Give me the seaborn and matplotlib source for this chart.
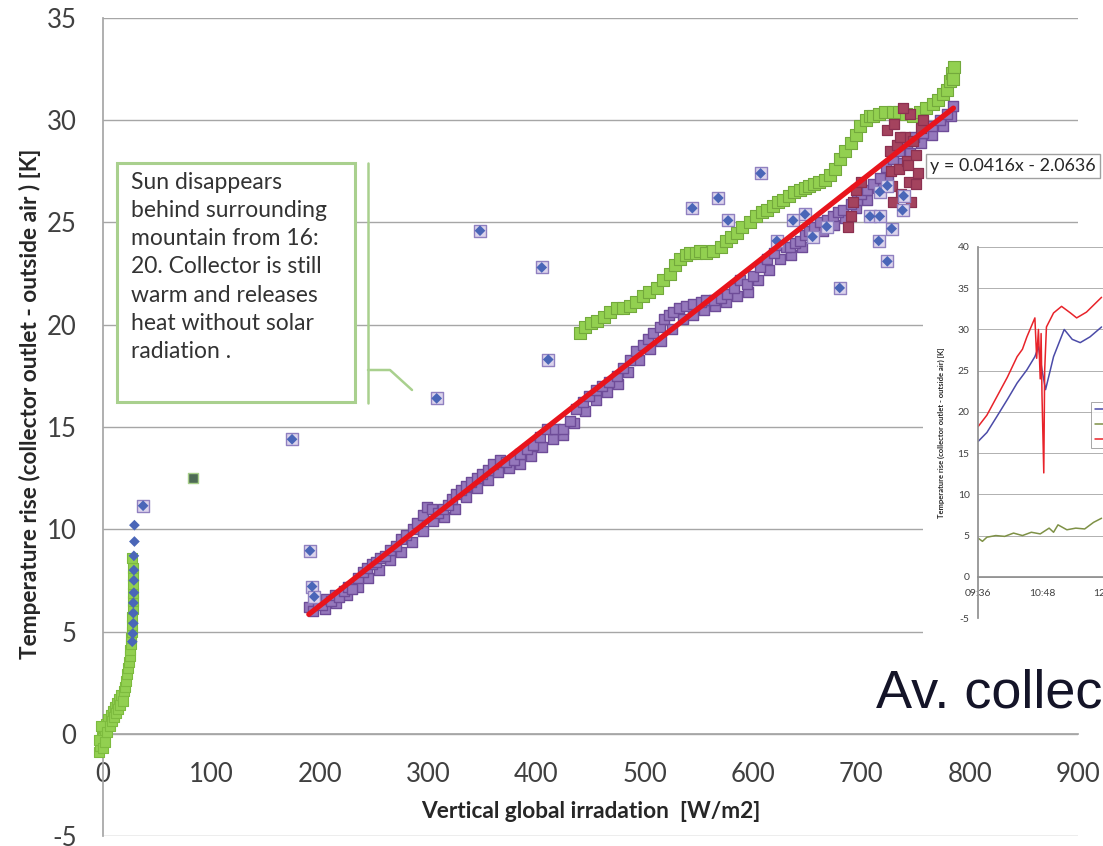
import numpy as np
import pandas as pd
import matplotlib
matplotlib.use("Agg")
import matplotlib.pyplot as plt
import seaborn as sns
from matplotlib.patches import Rectangle
from matplotlib.lines import Line2D

# ---- main chart data (irradiation W/m2, temperature rise K) ----
# early morning points close to the origin
green_early_x = [-4, -3, -2, -1, 0, 1, 2, 3, 5, 7, 9, 11, 13, 15, 17, 19, 20, 21, 22, 23, 24, 25, 25, 26, 26, 27,
                 27, 27, 28, 28, 28, 28, 28, 28, 27, -4, -2, 0, 2, 4, 6, 8, 10, 12, 14, 16, 18]
green_early_y = [-0.9, -0.6, -0.3, -0.1, 0.1, 0.3, 0.2, 0.5, 0.7, 0.9, 1.1, 1.3, 1.5, 1.7, 1.9, 2.1, 2.3, 2.6, 2.9,
                 3.2, 3.5, 3.8, 4.1, 4.4, 4.7, 5.0, 5.3, 5.7, 6.1, 6.5, 6.9, 7.3, 7.7, 8.1, 8.6, -0.3, 0.4, -0.7,
                 -0.4, 0.1, 0.4, 0.6, 0.8, 1.0, 1.2, 1.4, 1.6]

# afternoon points (upper green band)
green_x = [440, 445, 450, 456, 462, 468, 474, 480, 486, 492, 498, 504, 511, 517, 523, 528, 533, 538, 542, 547,
           551, 557, 563, 570, 575, 580, 585, 590, 597, 603, 608, 613, 618, 623, 628, 633, 638, 643, 648, 652,
           656, 661, 666, 671, 676, 680, 685, 690, 695, 699, 704, 708, 711, 716, 722, 729, 735, 741, 748, 754,
           760, 766, 771, 775, 779, 782, 784, 786, 785]
green_y = [19.6, 19.9, 20.1, 20.2, 20.4, 20.6, 20.8, 20.8, 20.9, 21.1, 21.4, 21.6, 21.8, 22.2, 22.5, 22.9, 23.2,
           23.4, 23.5, 23.5, 23.6, 23.5, 23.6, 23.8, 24.1, 24.3, 24.5, 24.8, 25.0, 25.3, 25.5, 25.6, 25.8, 26.0,
           26.1, 26.3, 26.5, 26.6, 26.7, 26.8, 26.9, 27.0, 27.1, 27.3, 27.6, 28.1, 28.5, 28.9, 29.3, 29.7, 30.0,
           30.2, 30.2, 30.3, 30.4, 30.4, 30.4, 30.3, 30.2, 30.4, 30.6, 30.8, 31.0, 31.3, 31.5, 31.9, 32.3, 32.6,
           32.0]

# main band of measurements along the trend line
purple_x = [190, 194, 198, 202, 206, 210, 214, 218, 222, 226, 230, 235, 240, 244, 248, 252, 256, 260, 265, 270,
            275, 280, 286, 290, 295, 299, 304, 309, 314, 318, 322, 326, 330, 335, 340, 345, 350, 355, 360, 366,
            372, 379, 385, 391, 397, 403, 410, 417, 425, 431, 437, 443, 449, 455, 461, 467, 474, 480, 486, 492,
            498, 503, 508, 514, 518, 522, 526, 532, 538, 545, 552, 557, 564, 570, 576, 582, 588, 594, 600, 606,
            613, 619, 625, 630, 634, 639, 643, 648, 652, 656, 662, 668, 674, 678, 683, 690, 696, 700, 705, 711,
            717, 723, 729, 735, 742, 749, 757, 765, 773, 779, 785]
purple_y = [6.2, 6.0, 6.4, 6.3, 6.6, 6.5, 6.8, 6.7, 7.0, 7.2, 7.1, 7.6, 7.9, 8.1, 8.3, 8.4, 8.6, 8.7, 9.0, 9.2,
            9.5, 9.7, 10.0, 10.3, 10.7, 11.1, 11.0, 10.8, 11.0, 11.2, 11.5, 11.7, 11.9, 12.1, 12.3, 12.5, 12.7,
            12.9, 13.2, 13.4, 13.3, 13.4, 13.7, 13.9, 14.1, 14.5, 14.9, 14.9, 14.9, 15.3, 15.9, 16.2, 16.5, 16.8,
            17.0, 17.2, 17.5, 17.9, 18.3, 18.7, 19.0, 19.3, 19.6, 19.9, 20.3, 20.5, 20.6, 20.8, 20.9, 21.0, 21.1,
            21.2, 21.2, 21.3, 21.5, 21.8, 22.2, 22.0, 22.4, 22.8, 23.2, 23.5, 23.9, 23.8, 23.8, 24.0, 24.1, 24.4,
            24.6, 24.8, 25.0, 25.1, 25.3, 25.5, 25.6, 25.9, 26.1, 26.4, 26.6, 26.9, 27.2, 27.7, 28.1, 28.5, 28.9,
            29.2, 29.4, 29.7, 30.0, 30.3, 30.7]
purple_low_x = [205, 215, 225, 235, 245, 255, 265, 275, 285, 295, 305, 315, 325, 335, 345, 355, 365, 375, 385,
                395, 405, 415, 425, 435, 445, 455, 465, 475, 485, 495, 505, 515, 525, 535, 545, 555, 565, 575,
                585, 595, 605, 615, 625, 635, 645, 655, 665, 675, 685, 695, 705, 715, 725, 735, 745, 755, 765,
                775, 783]
purple_low_y = [6.1, 6.4, 6.8, 7.2, 7.6, 8.0, 8.5, 8.9, 9.4, 9.9, 10.4, 10.6, 11.0, 11.6, 12.0, 12.4, 12.8, 13.0,
                13.2, 13.6, 14.0, 14.4, 14.6, 15.2, 15.8, 16.3, 16.7, 17.1, 17.7, 18.3, 18.8, 19.2, 19.8, 20.3,
                20.5, 20.7, 20.9, 21.1, 21.4, 21.6, 22.2, 22.7, 23.2, 23.4, 23.8, 24.3, 24.6, 24.9, 25.2, 25.7,
                26.1, 26.7, 27.2, 27.9, 28.4, 28.9, 29.3, 29.7, 30.2]

# late cluster (sun behind the mountain)
maroon_x = [724, 726, 727, 728, 730, 733, 735, 737, 740, 742, 744, 746, 748, 750, 752, 755, 757, 690, 692, 695,
            700, 688, 745, 738, 729, 736, 743, 750]
maroon_y = [29.5, 28.5, 27.5, 26.8, 29.8, 28.8, 27.6, 26.4, 29.2, 28.0, 27.0, 26.0, 29.0, 28.3, 27.4, 29.6, 30.0,
            25.3, 26.0, 26.6, 27.0, 24.8, 30.3, 30.6, 26.0, 29.2, 27.8, 26.9]

# scattered single readings
blue_x = [37, 174.5, 191, 193, 195, 308, 348, 405, 411, 544, 568, 577, 607, 622, 637, 648, 655, 668, 680, 708,
          716, 717, 717, 724, 724, 728, 738, 739]
blue_y = [11.15, 14.4, 8.95, 7.2, 6.7, 16.4, 24.6, 22.8, 18.3, 25.7, 26.2, 25.1, 27.4, 24.1, 25.1, 25.4, 24.3,
          24.8, 21.8, 25.3, 24.1, 25.3, 26.5, 23.1, 26.8, 24.7, 25.6, 26.3]
blue_early_x = [29, 29, 28.5, 28.5, 28.5, 28.5, 28, 28, 28, 27.5, 27]
blue_early_y = [10.2, 9.4, 8.7, 8.0, 7.5, 6.9, 6.4, 5.9, 5.4, 4.9, 4.5]
dark_x = [83]
dark_y = [12.5]

trend_slope = 0.0416
trend_intercept = -2.0636

x_ticks = [0, 100, 200, 300, 400, 500, 600, 700, 800, 900]
y_ticks = [-5, 0, 5, 10, 15, 20, 25, 30, 35]

# ---- inset data (minutes after 09:36, temperature rise K) ----
red_t = [0, 10, 21, 33, 44, 50, 55, 64, 66, 68, 70, 71, 72, 74, 75, 77, 85, 94, 104, 111, 122, 139]
red_v = [18.2, 19.6, 21.8, 24.2, 26.7, 27.6, 29.1, 31.4, 26.5, 30.0, 24.0, 29.5, 22.0, 12.6, 25.0, 30.3, 32.0,
         32.8, 32.0, 31.4, 32.1, 33.9]
blue_t = [0, 10, 21, 33, 44, 55, 64, 68, 72, 76, 85, 97, 106, 115, 126, 139]
blue_v = [16.4, 17.5, 19.4, 21.5, 23.5, 25.1, 26.7, 27.9, 25.1, 22.7, 26.7, 30.0, 28.8, 28.4, 29.1, 30.3]
olive_t = [0, 5, 10, 20, 30, 40, 50, 60, 70, 80, 85, 90, 100, 110, 120, 130, 139]
olive_v = [4.7, 4.3, 4.8, 5.0, 4.9, 5.3, 5.0, 5.4, 5.2, 5.9, 5.4, 6.3, 5.7, 5.9, 5.8, 6.6, 7.1]
inset_ticks = [0, 72, 144]
inset_labels = ["09:36", "10:48", "12:00"]

note = ("Sun disappears\nbehind surrounding\nmountain from 16:\n20. Collector is still\n"
        "warm and releases\nheat without solar\nradiation .")

sns.set_theme(style="white")
plt.rcParams["font.family"] = ["Lato", "DejaVu Sans"]

W, H = 1103, 846


def fx(px):
    return px / W


def fy(py):
    return 1 - py / H


fig = plt.figure(figsize=(W / 100, H / 100), dpi=100)
ax = fig.add_axes([fx(103), fy(836), fx(1078) - fx(103), fy(18) - fy(836)])

grid_col = "#A6A6A6"
sns.scatterplot(x=green_early_x, y=green_early_y, ax=ax, marker="s", s=60, color="#92D050",
                edgecolor="#7DBB3E", linewidth=0.8, clip_on=False, zorder=3)
sns.scatterplot(x=green_x, y=green_y, ax=ax, marker="s", s=64, color="#92D050",
                edgecolor="#73A93C", linewidth=0.8, zorder=3)
sns.scatterplot(x=purple_low_x, y=purple_low_y, ax=ax, marker="s", s=58, color="#9578BC",
                edgecolor="#6E4C98", linewidth=1.0, zorder=4)
sns.scatterplot(x=purple_x, y=purple_y, ax=ax, marker="s", s=58, color="#9578BC",
                edgecolor="#6E4C98", linewidth=1.0, zorder=4)
sns.scatterplot(x=maroon_x, y=maroon_y, ax=ax, marker="s", s=58, color="#A4435E",
                edgecolor="#8B3050", linewidth=0.9, zorder=4)
sns.scatterplot(x=dark_x, y=dark_y, ax=ax, marker="s", s=60, color="#4E6B55",
                edgecolor="#A8CF8A", linewidth=1.0, zorder=5)
sns.scatterplot(x=blue_x, y=blue_y, ax=ax, marker="s", s=70, color="#DCD4EC",
                edgecolor="#9080C0", linewidth=1.0, zorder=5)
sns.scatterplot(x=blue_x + blue_early_x, y=blue_y + blue_early_y, ax=ax, marker="D", s=30,
                color="#4A66B8", edgecolor="none", zorder=6)

# linear trend line over the fitted band
fit = pd.DataFrame({"x": [min(purple_x), max(purple_x)]})
fit["y"] = trend_slope * fit["x"] + trend_intercept
sns.lineplot(data=fit, x="x", y="y", ax=ax, color="#E8141C", lw=3.8, zorder=7)

ax.set_xlim(0, 900)
ax.set_ylim(-5, 35)
ax.set_xticks(x_ticks)
ax.set_xticklabels([str(v) for v in x_ticks])
ax.set_yticks(y_ticks)
ax.set_yticklabels([str(v) for v in y_ticks])
ax.yaxis.grid(True, color=grid_col, lw=1)
ax.xaxis.grid(False)
ax.set_axisbelow(True)
for s in ["top", "right"]:
    ax.spines[s].set_visible(False)
ax.spines["bottom"].set_position(("data", 0))
ax.spines["bottom"].set_color(grid_col)
ax.spines["left"].set_color(grid_col)
ax.tick_params(axis="both", direction="out", length=8, width=1, color=grid_col,
               labelcolor="#404040", labelsize=18.5)
ax.tick_params(axis="x", pad=12)
ax.tick_params(axis="y", pad=11)
ax.set_xlabel("Vertical global irradation  [W/m2]", fontsize=16.3, fontweight="bold", color="#262626")
ax.xaxis.set_label_coords(0.5, 0.043)
ax.set_ylabel("Temperature rise (collector outlet - outside air ) [K]", fontsize=16.3,
              fontweight="bold", color="#262626")
ax.yaxis.set_label_coords(-0.064, 0.528)

# annotation box with accent bar callout
note_col = "#A9D08E"
fig.add_artist(Rectangle((fx(117), fy(402)), fx(355) - fx(117), fy(163) - fy(402),
                         transform=fig.transFigure, facecolor="white", edgecolor=note_col,
                         lw=2.2, zorder=8))
fig.text(fx(131), fy(172), note, fontsize=16.5, color="#333333", va="top", ha="left",
         linespacing=1.42, zorder=9)
fig.add_artist(Line2D([fx(368), fx(368)], [fy(163), fy(403)], transform=fig.transFigure,
                      color=note_col, lw=1.8, zorder=8))
fig.add_artist(Line2D([fx(368), fx(390), fx(412)], [fy(370), fy(370), fy(390)],
                      transform=fig.transFigure, color=note_col, lw=1.8, zorder=8))

# trend equation label
fig.text(fx(930), fy(166), f"y = {trend_slope}x - {abs(trend_intercept)}", fontsize=12.9,
         color="#262626", va="center", ha="left", zorder=9,
         bbox=dict(boxstyle="square,pad=0.25", facecolor="white", edgecolor="#A0A0A0", lw=1))

# pasted inset chart (time series)
fig.add_artist(Rectangle((fx(923), fy(650)), 1 - fx(923), fy(232) - fy(650),
                         transform=fig.transFigure, facecolor="white", edgecolor="none", zorder=2))
ax_in = fig.add_axes([fx(978), fy(618), fx(1362) - fx(978), fy(247) - fy(618)], zorder=4)
ax_in.patch.set_alpha(0)
sns.lineplot(x=olive_t, y=olive_v, ax=ax_in, color="#7E9146", lw=1.1)
sns.lineplot(x=blue_t, y=blue_v, ax=ax_in, color="#4B4BA8", lw=1.1)
sns.lineplot(x=red_t, y=red_v, ax=ax_in, color="#E8232A", lw=1.1)
ax_in.set_xlim(0, 432)
ax_in.set_ylim(-5, 40)
ax_in.set_yticks(list(range(-5, 41, 5)))
ax_in.set_yticklabels([str(v) for v in range(-5, 41, 5)])
ax_in.set_xticks(inset_ticks)
ax_in.set_xticklabels(inset_labels)
ax_in.yaxis.grid(True, color="#B0B0B0", lw=0.7)
ax_in.xaxis.grid(False)
ax_in.set_axisbelow(True)
for s in ["top", "right"]:
    ax_in.spines[s].set_visible(False)
ax_in.spines["bottom"].set_position(("data", 0))
ax_in.spines["bottom"].set_color("#909090")
ax_in.spines["left"].set_color("#909090")
ax_in.tick_params(axis="both", direction="out", length=3, width=0.7, color="#909090",
                  labelcolor="#404040", labelsize=7.5, pad=3)
ax_in.tick_params(axis="x", pad=6)
ax_in.set_ylabel("Temperature rise (collector outlet - outside air) [K]", fontsize=5.5,
                 fontweight="bold", color="#262626")
ax_in.yaxis.set_label_coords(-0.085, 0.5)
leg_handles = [Line2D([0], [0], color="#4B4BA8", lw=1.1), Line2D([0], [0], color="#7E9146", lw=1.1),
               Line2D([0], [0], color="#E8232A", lw=1.1)]
leg = ax_in.legend(leg_handles, ["", "", ""], loc="upper left", bbox_to_anchor=(fx(1086), fy(397)),
                   bbox_transform=fig.transFigure, fontsize=7, frameon=True, fancybox=False,
                   borderpad=0.4, labelspacing=0.6, handlelength=3.0, handletextpad=0.4)
leg.get_frame().set_edgecolor("#909090")
leg.get_frame().set_linewidth(0.7)

fig.text(fx(876), fy(707), "Av. collec", fontsize=39, family=["Liberation Sans", "DejaVu Sans"],
         color="#141428", va="baseline", ha="left", zorder=9)

fig.savefig("out.png", dpi=100, facecolor="white")
